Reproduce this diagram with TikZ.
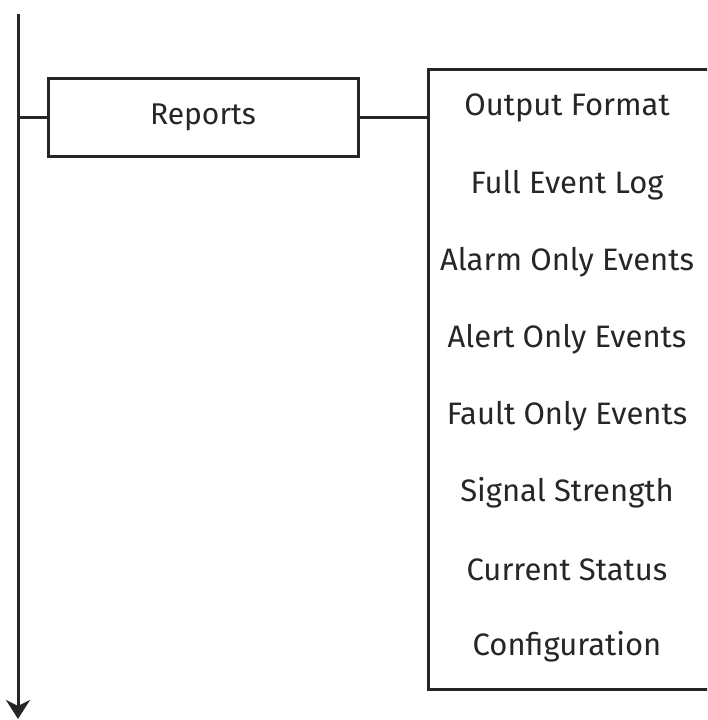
\documentclass[tikz,border=0pt]{standalone}
\usepackage{fontspec}
\setmainfont{Fira Sans}
\usetikzlibrary{positioning, arrows.meta}

\begin{document}
\begin{tikzpicture}[
x=1pt, y=-1pt,
    line/.style={draw, line width=3pt, color=black!85},
    menubox/.style={rectangle, draw, line width=3pt, color=black!85, text=black!85, minimum width=310pt, minimum height=78pt, font=\fontsize{30}{36}\selectfont},
    listbox/.style={rectangle, draw, line width=3pt, color=black!85, minimum width=320pt, minimum height=620pt},
    item/.style={font=\fontsize{31}{37}\selectfont, text=black!85}
]
    \useasboundingbox (0,0) rectangle (707,720);
    \clip (0,0) rectangle (707,720);

    % --- Main flow line ---
    \coordinate (top) at (18, 14);
    \coordinate (bottom) at (18, 719);
    \draw[line, -{Stealth[length=19pt, width=24pt, inset=6pt]}] (top) -- (bottom);

    % --- Reports entry ---
    \node[menubox] (reports) at (203, 117) {Reports};
    \draw[line] (reports.west -| top) -- (reports.west);

    % --- Report list ---
    \node[listbox, anchor=north west] (list) at (427, 68) {};
    \draw[line] (reports.east) -- (reports.east -| list.west);

    \foreach \name [count=\i] in {Output Format, Full Event Log, Alarm Only Events,
        Alert Only Events, Fault Only Events, Signal Strength, Current Status, Configuration}
        \node[item] (item\i) at (567, {108 + 77*(\i-1)}) {\name};

\end{tikzpicture}
\end{document}
